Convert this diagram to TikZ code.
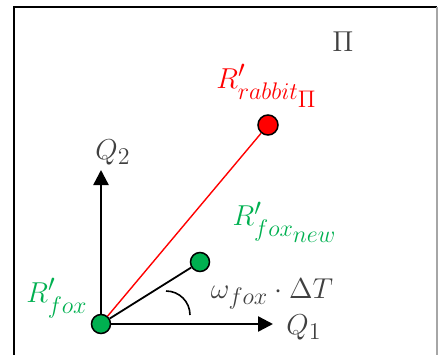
\documentclass[tikz,border=0pt]{standalone}
\usepackage{amsmath, amssymb}
\usepackage{tikz}
\usetikzlibrary{arrows.meta}

\definecolor{foxgreen}{HTML}{00B050}
\definecolor{txtgray}{HTML}{404040}
\DeclareMathSizes{15}{15}{11.5}{9.5}

\begin{document}
\begin{tikzpicture}[
    x=0.5pt, y=0.5pt,
    dot/.style={circle, draw, line width=0.75pt, minimum size=9.5pt, inner sep=0pt},
    axis/.style={-{Triangle[length=7.5pt, width=7.5pt]}, line width=1.2pt},
    lbl/.style={font=\fontsize{15}{17}\selectfont, inner sep=0pt}
]
    \useasboundingbox (0,0) rectangle (438,354);
    \clip (0,0) rectangle (438,354);
    % frame
    \draw[line width=1pt] (14,-10) -- (14,347) -- (437,347);
    \draw[line width=1pt, gray!70] (437,347) -- (437,-10);

    % points
    \node[dot, fill=foxgreen] (fox) at (101,30) {};
    \node[dot, fill=foxgreen] (foxnew) at (200,92) {};
    \node[dot, fill=red, minimum size=10pt] (rabbit) at (268,229) {};
    \coordinate (q1) at (273,30);
    \coordinate (q2) at (101,184);

    \draw[axis] (fox) -- (q1);
    \draw[axis] (fox) -- (q2);
    \draw[red, line width=0.7pt] (fox) -- (rabbit);
    \draw[line width=0.9pt] (fox) -- (foxnew);
    \draw[line width=0.8pt] (166,63) arc[start angle=90, end angle=0, radius=24];

    % labels
    \node[lbl, text=txtgray] (lq2) at (113,202) {$Q_2$};
    \node[lbl, text=txtgray] (lq1) at (304,27) {$Q_1$};
    \node[lbl, text=txtgray] (lang) at (272,60) {$\omega_{fox}\cdot\Delta T$};
    \node[lbl, text=foxgreen] (lfox) at (57,56) {$R'_{fox}$};
    \node[lbl, text=foxgreen] (lfoxnew) at (285,132) {$R'_{{fox}_{\scriptstyle new}}$};
    \node[lbl, text=red] (lrabbit) at (267,268) {$R'_{{rabbit}_{\scriptstyle\Pi}}$};
    \node[lbl, text=txtgray] (lpi) at (343,312) {$\Pi$};
\end{tikzpicture}
\end{document}
